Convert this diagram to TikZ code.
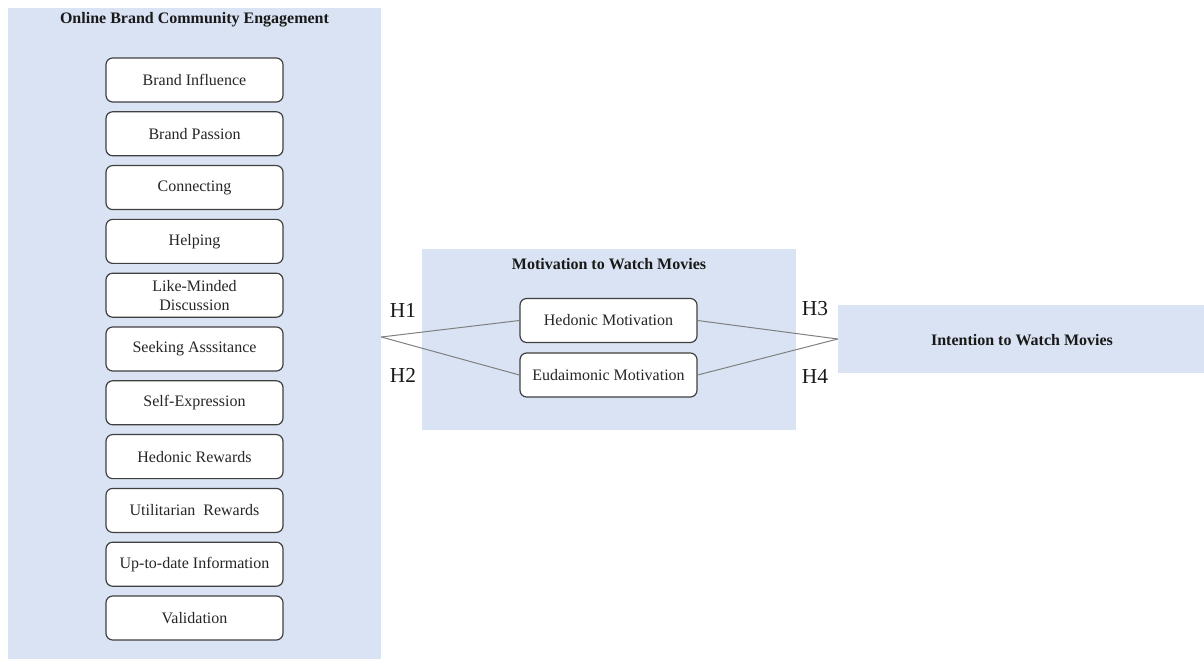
\documentclass[tikz,border=0pt]{standalone}
\usepackage{fontspec}
\setmainfont{Liberation Serif}
\definecolor{panelblue}{RGB}{218,227,243}
\definecolor{boxline}{RGB}{64,64,64}
\definecolor{linkgray}{RGB}{128,128,128}
\tikzset{
  panel/.style={
    rectangle,
    fill=panelblue,
    draw=none,
    inner sep=0pt
  },
  panel-title/.style={font=\fontsize{12}{14}\selectfont\bfseries, text=black!90, inner sep=0pt},
  factor/.style={
    rectangle,
    rounded corners=5pt,
    draw=boxline,
    line width=0.9pt,
    fill=white,
    minimum width=132.75pt,
    minimum height=33pt,
    inner sep=1pt,
    align=center,
    text=black!85,
    font=\fontsize{12}{14}\selectfont
  },
  link/.style={draw=linkgray, line width=0.75pt},
  hyp/.style={font=\fontsize{16}{18}\selectfont, text=black!90, inner sep=0pt}
}

\begin{document}
\begin{tikzpicture}[x=0.75pt, y=-0.75pt]
  \useasboundingbox (0,0) rectangle (1204,659);
  % Panels
  \node[panel, minimum width=279.75pt, minimum height=493.5pt] (engage)  at (194.5,337) {};
  \node[panel, minimum width=280.5pt,  minimum height=135.75pt] (motive) at (609,339.5) {};
  \node[panel, minimum width=279pt,    minimum height=51pt]     (intent) at (1024,339)  {};
  % Panel titles
  \node[panel-title] (engage-title) at (194.5,20) {Online Brand Community Engagement};
  \node[panel-title] (motive-title) at (609,264)  {Motivation to Watch Movies};
  \node[panel-title] (intent-title) at (1022,340) {Intention to Watch Movies};
  % Engagement dimensions
  \node[factor] (influence)  at (194.5, 80)    {Brand Influence};
  \node[factor] (passion)    at (194.5, 133.8) {Brand Passion};
  \node[factor] (connecting) at (194.5, 187.6) {Connecting};
  \node[factor] (helping)    at (194.5, 241.4) {Helping};
  \node[factor] (likeminded) at (194.5, 295.2) {Like-Minded\\Discussion};
  \node[factor] (seeking)    at (194.5, 349)   {Seeking Asssitance};
  \node[factor] (selfexpr)   at (194.5, 402.8) {Self-Expression};
  \node[factor] (hedrewards) at (194.5, 456.6) {Hedonic Rewards};
  \node[factor] (utilrewards)at (194.5, 510.4) {Utilitarian~ Rewards};
  \node[factor] (uptodate)   at (194.5, 564.2) {Up-to-date Information};
  \node[factor] (validation) at (194.5, 618)   {Validation};
  % Motivations
  \node[factor] (hedonic)    at (608.5, 320.5) {Hedonic Motivation};
  \node[factor] (eudaimonic) at (608.5, 375)   {Eudaimonic Motivation};
  % Paths
  \coordinate (split) at (engage.east);
  \draw[link] (split) -- (hedonic.west);
  \draw[link] (split) -- (eudaimonic.west);
  \draw[link] (hedonic.east) -- (intent.west);
  \draw[link] (eudaimonic.east) -- (intent.west);
  % Hypotheses
  \node[hyp] (h1) at (403,310) {H1};
  \node[hyp] (h2) at (403,375) {H2};
  \node[hyp] (h3) at (815,309) {H3};
  \node[hyp] (h4) at (815,376) {H4};
\end{tikzpicture}
\end{document}
